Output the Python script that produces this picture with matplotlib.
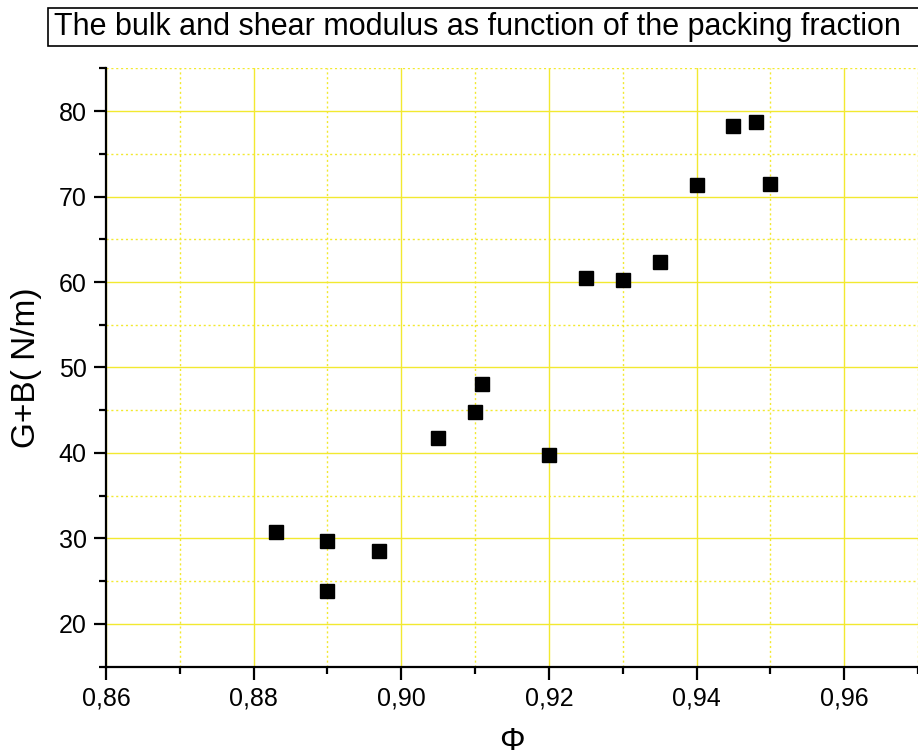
import matplotlib
matplotlib.use("Agg")
import matplotlib.pyplot as plt
from matplotlib.ticker import MultipleLocator, FuncFormatter
from matplotlib.patches import Rectangle

phi = [0.883, 0.890, 0.890, 0.897, 0.905, 0.910, 0.911, 0.920, 0.925, 0.930,
       0.935, 0.940, 0.945, 0.948, 0.950]
gb = [30.7, 29.7, 23.8, 28.5, 41.8, 44.8, 48.1, 39.8, 60.5, 60.2,
      62.3, 71.4, 78.2, 78.7, 71.5]

title = "The bulk and shear modulus as function of the packing fraction"
xlabel = "Φ"
ylabel = "G+B( N/m)"

plt.rcParams['font.family'] = ['Liberation Sans', 'DejaVu Sans']

fig = plt.figure(figsize=(9.18, 7.55), dpi=100)
ax = fig.add_axes([106/918, (755-666.7)/755, 1 - 106/918, (666.7-68.3)/755])

ax.set_xlim(0.86, 0.97)
ax.set_ylim(15, 85)
ax.xaxis.set_major_locator(MultipleLocator(0.02))
ax.xaxis.set_minor_locator(MultipleLocator(0.01))
ax.yaxis.set_major_locator(MultipleLocator(10))
ax.yaxis.set_minor_locator(MultipleLocator(5))
ax.xaxis.set_major_formatter(FuncFormatter(lambda v, p: f"{v:.2f}".replace('.', ',')))
ax.yaxis.set_major_formatter(FuncFormatter(lambda v, p: f"{v:.0f}"))

gcol = '#f2e930'
ax.grid(which='major', color=gcol, linewidth=1.0, linestyle='-')
ax.grid(which='minor', color=gcol, linewidth=1.0, linestyle=(0, (1.5, 2)))
ax.set_axisbelow(True)

for s in ['top', 'right']:
    ax.spines[s].set_visible(False)
for s in ['left', 'bottom']:
    ax.spines[s].set_linewidth(1.6)

ax.tick_params(which='major', direction='out', length=9, width=1.6, labelsize=18, pad=5)
ax.tick_params(which='minor', direction='out', length=5, width=1.6)

ax.plot(phi, gb, linestyle='none', marker='s', markersize=9.5, color='black', clip_on=False)

ax.set_xlabel(xlabel, fontsize=23, labelpad=12)
ax.set_ylabel(ylabel, fontsize=24, labelpad=12)

fig.patches.append(Rectangle((48/918, 1 - 46/755), 1, 38/755, transform=fig.transFigure,
                             facecolor='white', edgecolor='black', linewidth=1.2))
fig.text(54/918, 1 - 27/755, title, fontsize=22, va='center', ha='left')

fig.savefig("out.png", dpi=100)
